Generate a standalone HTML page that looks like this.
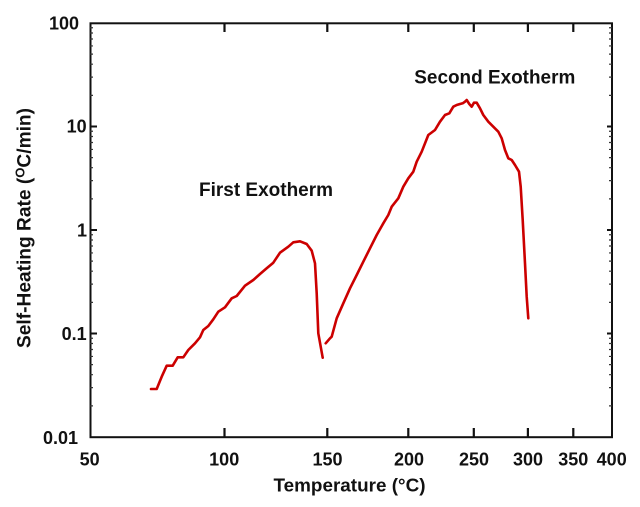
<!DOCTYPE html>
<html><head><meta charset="utf-8"><style>
html,body{margin:0;padding:0;background:#fff;}
svg{display:block;}
text{font-family:"Liberation Sans",Arial,sans-serif;font-weight:bold;fill:#111;}
</style></head><body>
<svg width="640" height="507" viewBox="0 0 640 507" xmlns="http://www.w3.org/2000/svg">
<rect x="0" y="0" width="640" height="507" fill="#fff"/>
<!-- axes box -->
<rect x="90.5" y="23.3" width="521.5" height="413.9" fill="none" stroke="#111" stroke-width="2"/>
<!-- x ticks bottom and top -->
<path d="M224.5 437V428 M327.3 437V428 M408.3 437V428 M473.8 437V428 M527.9 437V428 M573.3 437V428
M224.5 23V32 M327.3 23V32 M408.3 23V32 M473.8 23V32 M527.9 23V32 M573.3 23V32" stroke="#111" stroke-width="2.2" fill="none"/>
<!-- y major ticks -->
<path d="M90 126.5h7 M90 230h7 M90 333.5h7 M612 126.5h-5 M612 230h-5 M612 333.5h-5" stroke="#111" stroke-width="2" fill="none"/>
<!-- y minor ticks -->
<path d="M90 405.84h3M90 387.62h3M90 374.69h3M90 364.66h3M90 356.46h3M90 349.53h3M90 343.53h3M90 338.24h3
M90 302.34h3M90 284.12h3M90 271.19h3M90 261.16h3M90 252.96h3M90 246.03h3M90 240.03h3M90 234.74h3
M90 198.84h3M90 180.62h3M90 167.69h3M90 157.66h3M90 149.46h3M90 142.53h3M90 136.53h3M90 131.24h3
M90 95.34h3M90 77.12h3M90 64.19h3M90 54.16h3M90 45.96h3M90 39.03h3M90 33.03h3M90 27.74h3
M612 405.84h-3M612 387.62h-3M612 374.69h-3M612 364.66h-3M612 356.46h-3M612 349.53h-3M612 343.53h-3M612 338.24h-3
M612 302.34h-3M612 284.12h-3M612 271.19h-3M612 261.16h-3M612 252.96h-3M612 246.03h-3M612 240.03h-3M612 234.74h-3
M612 198.84h-3M612 180.62h-3M612 167.69h-3M612 157.66h-3M612 149.46h-3M612 142.53h-3M612 136.53h-3M612 131.24h-3
M612 95.34h-3M612 77.12h-3M612 64.19h-3M612 54.16h-3M612 45.96h-3M612 39.03h-3M612 33.03h-3M612 27.74h-3" stroke="#333" stroke-width="1.2" fill="none"/>
<!-- y tick labels -->
<g font-size="18" text-anchor="end">
<text x="79" y="29.5">100</text>
<text x="86.7" y="132.5">10</text>
<text x="87" y="236.5">1</text>
<text x="86.7" y="340">0.1</text>
<text x="78" y="444">0.01</text>
</g>
<!-- x tick labels -->
<g font-size="18" text-anchor="middle">
<text x="89.7" y="465.5">50</text>
<text x="224.2" y="465.5">100</text>
<text x="327.5" y="465.5">150</text>
<text x="409" y="465.5">200</text>
<text x="474" y="465.5">250</text>
<text x="528" y="465.5">300</text>
<text x="573.3" y="465.5">350</text>
<text x="611.7" y="465.5">400</text>
</g>
<!-- axis titles -->
<text x="273.5" y="491.5" font-size="18" textLength="152" lengthAdjust="spacingAndGlyphs">Temperature (°C)</text>
<text transform="translate(30.5,228) rotate(-90)" text-anchor="middle" font-size="19" textLength="240" lengthAdjust="spacingAndGlyphs">Self-Heating Rate (<tspan font-size="13" dy="-6">O</tspan><tspan dy="6">C/min)</tspan></text>
<!-- annotations -->
<text x="199" y="196" font-size="19" textLength="134" lengthAdjust="spacingAndGlyphs">First Exotherm</text>
<text x="414.3" y="83.3" font-size="19" textLength="161" lengthAdjust="spacingAndGlyphs">Second Exotherm</text>
<!-- curves -->
<g fill="none" stroke="#cc0000" stroke-width="2.6" stroke-linejoin="round" stroke-linecap="round">
<polyline points="151,389 156.7,389 161.7,376.7 166.7,365.7 172.7,365.7 177.7,357.3 183.3,357.3 188.3,350 195,343.3 200,337.3 203.3,330 208.3,326 213.3,319.3 218.3,311.7 225,307.3 231.7,298.3 236.7,296 245,285.7 253.3,280 260,274 266.7,268.3 273.3,262.7 280,252.7 288.3,246.7 293.3,242.3 300,241.3 306.7,244 311.7,250.7 315,263.3 316.7,293.3 318.3,333.3 322.7,357.7"/>
<polyline points="325.7,343.3 330,338.3 331.7,336.7 336.7,318.3 343.3,303.3 350,288.3 356.7,275 363.3,261.7 370,248.3 376.7,235 383.3,223.3 388.3,215 391.7,206.7 398.3,198.3 403.3,186.7 408.3,178.3 413.3,171.7 416.7,161.7 421.7,151.7 428.3,135 435,130 440,121.7 445,115 449.3,113.3 453.3,106.7 456.7,105 460,104 462.7,103.3 465,101.7 466.7,100 469.3,104 471.7,106.7 474,102.7 476.7,102.7 480,108.3 483.3,115 488.3,121.7 493.3,126.7 498.3,131.7 501.7,138.3 505,150 508.3,158.3 511.7,160 515,165 519,171.7 520.7,186.7 522.7,220 525,263.3 526.7,296.7 528.3,318.3"/>
</g>
</svg>
</body></html>
